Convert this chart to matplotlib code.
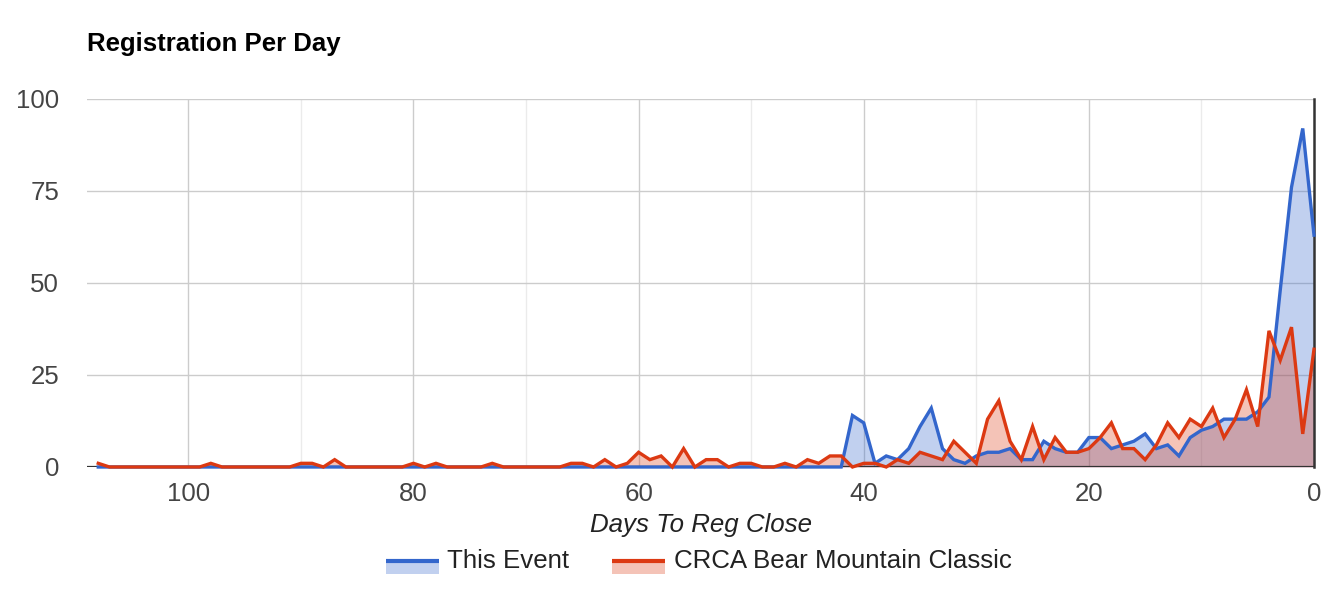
import matplotlib
matplotlib.use("Agg")
import matplotlib.pyplot as plt
from matplotlib.patches import Rectangle
from matplotlib.lines import Line2D

# ---- data ----
days = list(range(108, -1, -1))  # 108 ... 0

this_event = [0] * 67 + [  # days 108..42
    14, 12, 1, 3, 2, 5, 11, 16, 5, 2,      # 41..32
    1, 3, 4, 4, 5, 2, 2, 7, 5, 4,          # 31..22
    4, 8, 8, 5, 6, 7, 9, 5, 6, 3,          # 21..12
    8, 10, 11, 13, 13, 13, 15, 19, 48, 76, # 11..2
    92, 63,                                # 1..0
]

bear_mountain = [
    1, 0, 0, 0, 0, 0, 0, 0, 0, 0,          # 108..99
    1, 0, 0, 0, 0, 0, 0, 0, 1, 1,          # 98..89
    0, 2, 0, 0, 0, 0, 0, 0, 1, 0,          # 88..79
    1, 0, 0, 0, 0, 1, 0, 0, 0, 0,          # 78..69
    0, 0, 1, 1, 0, 2, 0, 1, 4, 2,          # 68..59
    3, 0, 5, 0, 2, 2, 0, 1, 1, 0,          # 58..49
    0, 1, 0, 2, 1, 3, 3, 0, 1, 1,          # 48..39
    0, 2, 1, 4, 3, 2, 7, 4, 1, 13,         # 38..29
    18, 7, 2, 11, 2, 8, 4, 4, 5, 8,        # 28..19
    12, 5, 5, 2, 6, 12, 8, 13, 11, 16,     # 18..9
    8, 13, 21, 11, 37, 29, 38, 9, 32,      # 8..0
]

series_names = ["This Event", "CRCA Bear Mountain Classic"]
x_ticks = [100, 80, 60, 40, 20, 0]
x_minor = [90, 70, 50, 30, 10]
y_ticks = [0, 25, 50, 75, 100]
title = "Registration Per Day"
x_title = "Days To Reg Close"

BLUE = "#3366cc"
RED = "#dc3912"

W, H = 1342, 602
fig = plt.figure(figsize=(W / 100, H / 100), dpi=100)
plt.rcParams["font.family"] = ["Liberation Sans", "DejaVu Sans"]

FS = 18.6

L, R, T, B = 87, 1314, 99, 467
ax = fig.add_axes([L / W, (H - B) / H, (R - L) / W, (B - T) / H])
ax.set_xlim(109, 0)
ax.set_ylim(0, 100)

for s in ax.spines.values():
    s.set_visible(False)

# gridlines
for xm in x_minor:
    ax.axvline(xm, color="#ebebeb", lw=1.0, zorder=0)
for xt in x_ticks[:-1]:
    ax.axvline(xt, color="#cccccc", lw=1.0, zorder=0.5)
for yt in y_ticks[1:]:
    ax.axhline(yt, color="#cccccc", lw=1.0, zorder=0.5)

# areas
ax.fill_between(days, this_event, 0, color=BLUE, alpha=0.3, lw=0, zorder=1)
ax.fill_between(days, bear_mountain, 0, color=RED, alpha=0.3, lw=0, zorder=1.1)

# baselines
ax.axhline(0, color="#333333", lw=1.6, zorder=2)
ax.axvline(0, color="#333333", lw=1.8, zorder=2, clip_on=False)

# lines
ax.plot(days, this_event, color=BLUE, lw=2.4, solid_joinstyle="miter",
        zorder=3, clip_on=False)
ax.plot(days, bear_mountain, color=RED, lw=2.4, solid_joinstyle="miter",
        zorder=3.1, clip_on=False)

ax.set_xticks(x_ticks)
ax.set_xticklabels([str(v) for v in x_ticks])
ax.set_yticks(y_ticks)
ax.set_yticklabels([str(v) for v in y_ticks])
ax.tick_params(axis="both", length=0, labelsize=FS, labelcolor="#444444")
ax.tick_params(axis="y", pad=20)
ax.tick_params(axis="x", pad=11)

# title
fig.text(L / W, 1 - 44 / H, title, fontsize=18.5, fontweight="bold",
         color="#000000", ha="left", va="center")

# axis title
fig.text((L + R) / 2 / W, 1 - 525 / H, x_title, fontsize=FS, style="italic",
         color="#222222", ha="center", va="center")

# legend (manual)
def legend_entry(x0, x1, color, label, tx):
    fig.add_artist(Rectangle((x0 / W, 1 - 574 / H), (x1 - x0) / W, 13 / H,
                             transform=fig.transFigure, facecolor=color,
                             alpha=0.3, lw=0))
    fig.add_artist(Line2D([x0 / W, x1 / W], [1 - 561 / H, 1 - 561 / H],
                          transform=fig.transFigure, color=color, lw=3.0,
                          solid_capstyle="butt"))
    fig.text(tx / W, 1 - 561 / H, label, fontsize=FS, color="#222222",
             ha="left", va="center")

legend_entry(386, 439, BLUE, series_names[0], 447)
legend_entry(612, 665, RED, series_names[1], 674)

fig.savefig("out.png", dpi=100)
